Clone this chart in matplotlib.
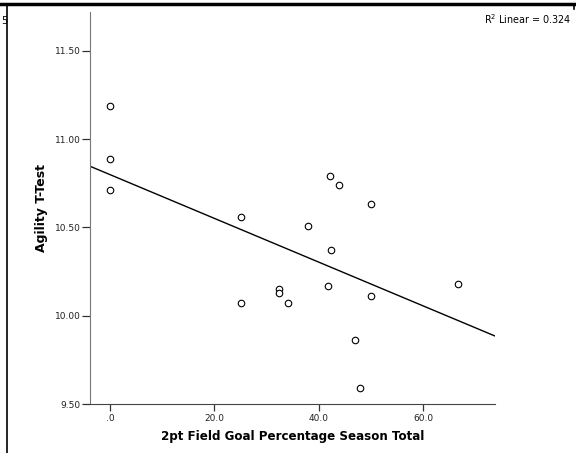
import numpy as np
import matplotlib
matplotlib.use("Agg")
import matplotlib.pyplot as plt
from matplotlib.lines import Line2D

# 2pt FG % season total vs agility t-test
fg_pct = [0.0, 0.0, 0.0, 25.0, 25.0, 32.3, 32.4, 34.0, 38.0, 42.1, 43.8,
          42.3, 41.7, 50.0, 50.0, 47.0, 47.8, 66.7]
agility = [11.19, 10.89, 10.71, 10.56, 10.07, 10.15, 10.13, 10.07, 10.51, 10.79, 10.74,
           10.37, 10.17, 10.63, 10.11, 9.86, 9.59, 10.18]
x_ticks = [0, 20, 40, 60]
x_ticklabels = [".0", "20.0", "40.0", "60.0"]
y_ticks = [9.5, 10.0, 10.5, 11.0, 11.5]
y_ticklabels = ["9.50", "10.00", "10.50", "11.00", "11.50"]

x = np.array(fg_pct)
y = np.array(agility)
slope, icept = np.polyfit(x, y, 1)
r2 = np.corrcoef(x, y)[0, 1] ** 2

fig = plt.figure(figsize=(5.76, 4.53), dpi=100)
ax = fig.add_axes([90/576, 1-404/453, 405/576, 392/453])

xlim = (-3.8, 73.7)
ylim = (9.5, 11.72)
ax.scatter(x, y, s=22, facecolors="white", edgecolors="black", linewidths=0.8, zorder=3)
xx = np.array(xlim)
ax.plot(xx, slope*xx + icept, color="black", lw=1.0)

ax.set_xlim(xlim)
ax.set_ylim(ylim)
ax.set_xticks(x_ticks)
ax.set_xticklabels(x_ticklabels)
ax.set_yticks(y_ticks)
ax.set_yticklabels(y_ticklabels)
ax.tick_params(axis="both", labelsize=6.5, color="#333333", labelcolor="#222222")
ax.tick_params(axis="y", length=6, width=0.9, pad=0.5)
ax.tick_params(axis="x", length=5, width=0.9, pad=2)
for s in ["top", "right"]:
    ax.spines[s].set_visible(False)
ax.spines["left"].set_color("#777777")
ax.spines["bottom"].set_color("#444444")

ax.set_xlabel("2pt Field Goal Percentage Season Total", fontsize=8.6, fontweight="bold", labelpad=5)
ax.set_ylabel("Agility T-Test", fontsize=9, fontweight="bold")
ax.yaxis.set_label_coords(-42/405, (453-208-49)/392)

fig.text(484/576, 1-19/453, "R$^2$ Linear = 0.3" + str(round(r2, 3))[3:], fontsize=6.9, va="center")
fig.text(1/576, 1-21/453, "5", fontsize=7, va="center", ha="left")

# frame bits from the cropped output
fig.add_artist(Line2D([0, 574/576], [1-4/453, 1-4/453], color="black", lw=2.5))
fig.add_artist(Line2D([7/576, 7/576], [0, 1-4/453], color="black", lw=1.2))
fig.add_artist(Line2D([574/576, 574/576], [1-4/453, 1-9/453], color="black", lw=1.2))

fig.savefig("out.png", dpi=100)
